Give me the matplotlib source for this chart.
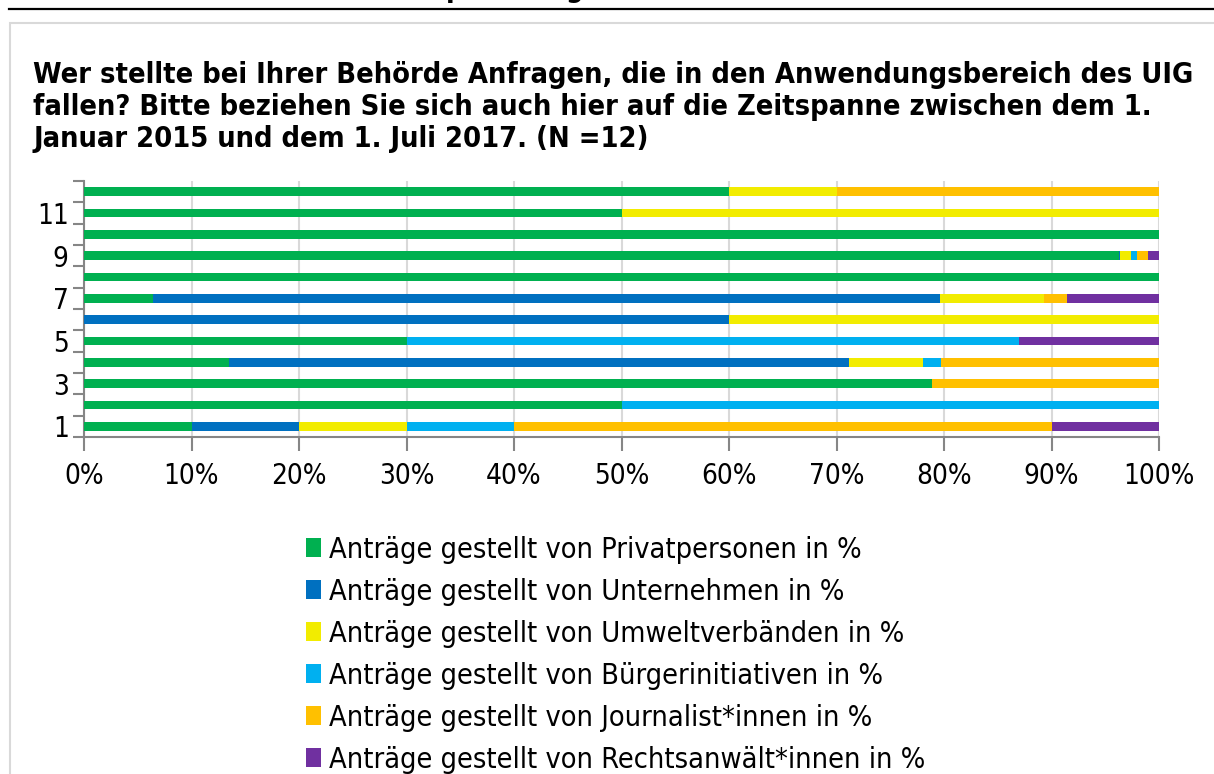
import matplotlib.pyplot as plt
from matplotlib.patches import Patch, Rectangle
from matplotlib.lines import Line2D
import numpy as np

plt.rcParams['font.family'] = ['DejaVu Sans']
plt.rcParams['font.stretch'] = 'condensed'

TITLE = ("Wer stellte bei Ihrer Behörde Anfragen, die in den Anwendungsbereich des UIG\n"
         "fallen? Bitte beziehen Sie sich auch hier auf die Zeitspanne zwischen dem 1.\n"
         "Januar 2015 und dem 1. Juli 2017. (N =12)")

rows = list(range(1, 13))
privat = [10, 50, 78.9, 13.5, 30, 0, 6.4, 100, 96.3, 100, 50, 60]
unternehmen = [10, 0, 0, 57.7, 0, 60, 73.2, 0, 0.1, 0, 0, 0]
umwelt = [10, 0, 0, 6.8, 0, 40, 9.7, 0, 1.0, 0, 50, 10]
buerger = [10, 50, 0, 1.7, 57, 0, 0, 0, 0.6, 0, 0, 0]
journalist = [50, 0, 21.1, 20.3, 0, 0, 2.1, 0, 1.0, 0, 0, 30]
anwalt = [10, 0, 0, 0, 13, 0, 8.6, 0, 1.0, 0, 0, 0]

series = [privat, unternehmen, umwelt, buerger, journalist, anwalt]
labels = [
    "Anträge gestellt von Privatpersonen in %",
    "Anträge gestellt von Unternehmen in %",
    "Anträge gestellt von Umweltverbänden in %",
    "Anträge gestellt von Bürgerinitiativen in %",
    "Anträge gestellt von Journalist*innen in %",
    "Anträge gestellt von Rechtsanwält*innen in %",
]
colors = ["#00B050", "#0070C0", "#F2EC00", "#00B0F0", "#FFC000", "#7030A0"]

W, H = 1214, 774
fig = plt.figure(figsize=(W / 100, H / 100), dpi=100)

# frame and header line
fig.add_artist(Line2D([9 / W, 1], [1 - 8.5 / H, 1 - 8.5 / H], color="black", lw=1.6))
fig.add_artist(Rectangle((9.5 / W, -0.1), 1.2, 1 - 23 / H + 0.1, fill=False,
                         edgecolor="#d9d9d9", lw=1.5))
# cut-off heading above the frame (only descenders visible)
fig.text(446 / W, 1 + 3 / H, "p", fontsize=20, fontweight="bold", va="baseline")
fig.text(566 / W, 1 + 3 / H, "g", fontsize=20, fontweight="bold", va="baseline")

fig.text(33 / W, 1 - 61 / H, TITLE, fontsize=20.8, fontweight="bold", va="top",
         ha="left", linespacing=1.19)

ax = fig.add_axes([84 / W, 1 - 437 / H, 1075 / W, 256 / H])
left = np.zeros(len(rows))
for vals, col in zip(series, colors):
    ax.barh(rows, vals, left=left, height=0.42, color=col, zorder=3)
    left += np.array(vals)

ax.set_xlim(0, 100)
ax.set_ylim(0.5, 12.5)
ax.set_xticks(np.arange(0, 101, 10))
ax.set_xticklabels([f"{v}%" for v in range(0, 101, 10)])
ax.set_yticks([1, 3, 5, 7, 9, 11])
ax.set_yticks(np.arange(0.5, 13, 1), minor=True)
ax.tick_params(axis="y", which="major", length=0, labelsize=20, pad=11)
ax.tick_params(axis="y", which="minor", length=8, width=1.5, color="#868686")
ax.tick_params(axis="x", length=10, width=1.5, color="#868686", labelsize=20, pad=8)
ax.grid(axis="x", color="#d9d9d9", lw=1.5, zorder=0)
for s in ["top", "right"]:
    ax.spines[s].set_visible(False)
for s in ["left", "bottom"]:
    ax.spines[s].set_color("#868686")
    ax.spines[s].set_linewidth(1.5)

handles = [Patch(facecolor=c, edgecolor="none") for c in colors]
fig.legend(handles, labels, loc="upper left", bbox_to_anchor=(294 / W, 1 - 524 / H),
           frameon=False, fontsize=20.7, handlelength=0.55, handleheight=0.65,
           handletextpad=0.27, labelspacing=0.49, borderaxespad=0)

fig.savefig("out.png", dpi=100)
